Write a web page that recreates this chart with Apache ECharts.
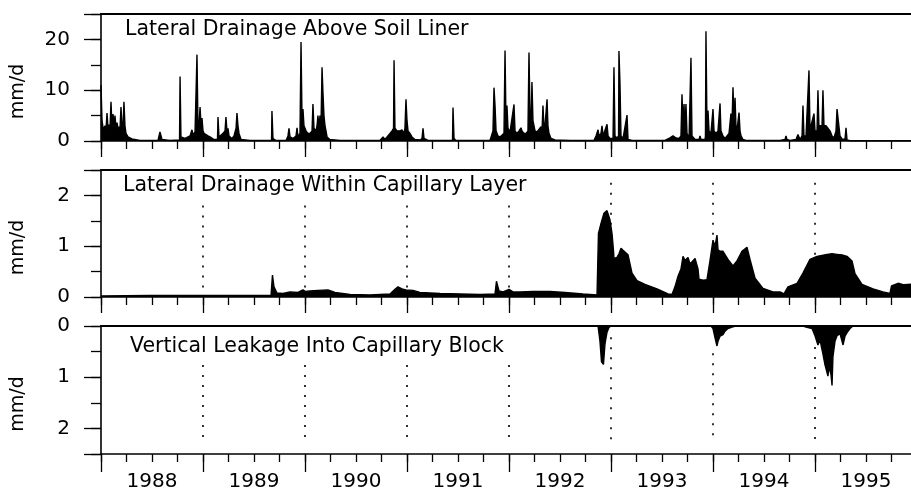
<!DOCTYPE html>
<html><head><meta charset="utf-8">
<script src="https://cdn.jsdelivr.net/npm/echarts@6/dist/echarts.min.js"></script>
<style>html,body{margin:0;padding:0;background:#fff}#c{width:911px;height:493px;overflow:hidden}</style>
</head><body><div id="c"></div>
<script>
// ---------- data ----------
const yearLabels = ['1988','1989','1990','1991','1992','1993','1994','1995'];
const panelTitles = ['Lateral Drainage Above Soil Liner','Lateral Drainage Within Capillary Layer','Vertical Leakage Into Capillary Block'];
const yUnit = 'mm/d';
const yearBoundaries = [1989,1990,1991,1992,1993,1994,1995];
// where the dotted year lines start (value on each panel's y axis)
const dottedStartLayer = [1.8,1.8,1.8,1.8,2.25,2.25,2.25];
const dottedStartBlock = [0.76,0.76,0.76,0.76,0.22,0.53,0.41];
const dottedEndBlock = 2.29;

// [decimal year, mm/d]
const aboveLinerData = [
[1988.000,11],[1988.010,4],[1988.020,2.7],[1988.029,2.3],[1988.039,3],[1988.049,2.2],[1988.059,5.5],[1988.069,2.5],[1988.078,3.2],[1988.088,2.3],
[1988.098,7.7],[1988.108,2.6],[1988.118,5.3],[1988.127,2.8],[1988.137,5],[1988.147,2.5],[1988.157,3.6],[1988.167,2.4],[1988.176,2.8],[1988.186,2.2],
[1988.196,6.7],[1988.206,3],[1988.216,2.6],[1988.225,7.7],[1988.235,3],[1988.245,1.5],[1988.265,0.8],[1988.304,0.4],[1988.382,0.1],[1988.559,0.1],
[1988.578,1.8],[1988.598,0.3],[1988.676,0.1],[1988.770,0.2],[1988.775,12.7],[1988.784,0.8],[1988.824,0.5],[1988.873,1],[1988.892,2.2],[1988.902,1.2],
[1988.922,1.8],[1988.936,2],[1988.941,17],[1988.951,2.5],[1988.961,3],[1988.971,6.7],[1988.980,3.5],[1988.990,4.5],[1989.000,2],[1989.010,1.5],
[1989.029,1.2],[1989.049,1],[1989.069,0.8],[1989.108,0.3],[1989.142,0.3],[1989.147,4.7],[1989.157,0.8],[1989.176,1],[1989.196,1.5],[1989.216,2],
[1989.225,4.7],[1989.235,2],[1989.245,2.5],[1989.255,1],[1989.284,0.5],[1989.304,1],[1989.324,2.5],[1989.333,5.5],[1989.343,3],[1989.353,1.5],
[1989.373,0.3],[1989.461,0.1],[1989.672,0.1],[1989.676,5.9],[1989.686,0.5],[1989.716,0.1],[1989.814,0.1],[1989.833,1],[1989.843,2.5],[1989.853,0.8],
[1989.882,0.5],[1989.912,1],[1989.922,2.6],[1989.931,0.8],[1989.951,1.5],[1989.961,19.5],[1989.971,4],[1989.980,6.3],[1989.990,3],[1990.010,2],
[1990.029,1.5],[1990.049,1.5],[1990.069,2],[1990.078,7.3],[1990.088,2.5],[1990.108,2],[1990.118,3],[1990.127,5],[1990.137,2.5],[1990.147,5],
[1990.157,3],[1990.167,14.5],[1990.176,9.6],[1990.186,5],[1990.196,3],[1990.206,2],[1990.216,0.8],[1990.245,0.3],[1990.343,0.1],[1990.735,0.1],
[1990.765,0.8],[1990.784,0.3],[1990.833,1.5],[1990.853,2],[1990.868,2.5],[1990.873,15.9],[1990.882,2.5],[1990.902,2],[1990.931,2],[1990.951,2.2],
[1990.971,1.5],[1990.980,2.5],[1990.990,8.2],[1991.000,4],[1991.010,2],[1991.029,1.5],[1991.049,0.8],[1991.078,0.3],[1991.127,0.2],[1991.147,0.5],
[1991.157,2.5],[1991.167,0.5],[1991.206,0.1],[1991.446,0.1],[1991.451,6.6],[1991.461,0.5],[1991.480,0.1],[1991.814,0.1],[1991.843,2],[1991.853,10.5],
[1991.863,7],[1991.873,2],[1991.892,1],[1991.912,0.8],[1991.931,1],[1991.951,1.5],[1991.961,17.8],[1991.971,3],[1991.980,7],[1991.990,2.5],
[1992.010,1.8],[1992.029,2],[1992.049,7.2],[1992.059,2],[1992.078,1.5],[1992.098,2],[1992.118,2.6],[1992.127,2],[1992.147,1.5],[1992.167,1.5],
[1992.186,2],[1992.196,17.4],[1992.206,5],[1992.216,3],[1992.225,11.6],[1992.235,4],[1992.255,2],[1992.275,1.8],[1992.294,2],[1992.314,2.8],
[1992.324,2],[1992.333,7],[1992.343,2.5],[1992.353,3],[1992.373,8.2],[1992.382,3],[1992.392,1.5],[1992.412,0.5],[1992.451,0.2],[1992.598,0.1],
[1992.833,0.1],[1992.853,1],[1992.873,2.2],[1992.882,1],[1992.902,1.5],[1992.912,3],[1992.922,1],[1992.941,1],[1992.961,3.3],[1992.971,1],
[1992.990,0.5],[1993.020,0.5],[1993.029,14.5],[1993.039,1],[1993.059,0.6],[1993.074,1],[1993.078,17.7],[1993.088,11.3],[1993.098,1],[1993.118,0.5],
[1993.137,0.3],[1993.157,5.1],[1993.167,0.3],[1993.206,0.1],[1993.529,0.1],[1993.578,0.6],[1993.608,1],[1993.637,0.6],[1993.667,0.5],[1993.686,1],
[1993.696,9.2],[1993.706,3],[1993.716,7.3],[1993.725,2],[1993.735,7.3],[1993.745,1.5],[1993.765,0.5],[1993.779,0.5],[1993.784,16.4],[1993.794,1],
[1993.824,0.3],[1993.863,0.3],[1993.873,1],[1993.882,0.3],[1993.922,0.3],[1993.926,1],[1993.931,21.6],[1993.941,3],[1993.951,6],[1993.961,2],
[1993.980,1.5],[1994.000,6.3],[1994.010,2],[1994.029,1.5],[1994.049,2],[1994.069,7.4],[1994.078,2],[1994.098,1],[1994.118,0.5],[1994.137,0.8],
[1994.157,1.5],[1994.176,5.4],[1994.186,3],[1994.196,10.6],[1994.206,4],[1994.216,8.5],[1994.225,3],[1994.235,2],[1994.255,5.6],[1994.265,2],
[1994.275,1],[1994.294,0.3],[1994.324,0.1],[1994.657,0.1],[1994.706,0.3],[1994.716,1],[1994.725,0.3],[1994.755,0.1],[1994.814,0.3],[1994.833,1.3],
[1994.853,0.3],[1994.873,1],[1994.882,7],[1994.892,1],[1994.912,1],[1994.931,0.8],[1994.941,13.9],[1994.951,2],[1994.961,3],[1994.980,3],
[1994.990,5.4],[1995.000,2],[1995.020,2],[1995.029,10],[1995.039,2.5],[1995.049,3],[1995.069,3],[1995.078,10],[1995.088,3],[1995.108,3],
[1995.127,2.8],[1995.147,2],[1995.167,1],[1995.186,0.6],[1995.206,2],[1995.216,6.3],[1995.235,6.3],[1995.245,1],[1995.265,0.4],[1995.294,0.3],
[1995.304,2.6],[1995.314,0.2],[1995.343,0.05],[1995.941,0.05]
];

const capillaryLayerData = [
[1988.000,0.02],[1988.480,0.03],[1988.971,0.03],[1989.363,0.03],[1989.667,0.03],[1989.681,0.43],[1989.696,0.2],[1989.725,0.08],[1989.784,0.07],[1989.853,0.1],
[1989.931,0.09],[1989.980,0.14],[1990.000,0.11],[1990.049,0.12],[1990.127,0.13],[1990.225,0.14],[1990.294,0.09],[1990.441,0.05],[1990.637,0.04],[1990.833,0.06],
[1990.882,0.15],[1990.912,0.2],[1990.951,0.16],[1990.990,0.14],[1991.059,0.13],[1991.127,0.09],[1991.324,0.07],[1991.520,0.06],[1991.716,0.05],[1991.863,0.06],
[1991.877,0.31],[1991.902,0.12],[1991.941,0.1],[1992.000,0.15],[1992.039,0.1],[1992.108,0.1],[1992.235,0.11],[1992.402,0.11],[1992.549,0.09],[1992.725,0.06],
[1992.863,0.04],[1992.877,1.25],[1992.902,1.45],[1992.931,1.65],[1992.961,1.7],[1992.990,1.52],[1993.010,1.25],[1993.025,0.9],[1993.029,0.76],[1993.059,0.78],
[1993.078,0.85],[1993.098,0.96],[1993.118,0.92],[1993.137,0.9],[1993.167,0.83],[1993.206,0.47],[1993.255,0.32],[1993.333,0.25],[1993.451,0.16],[1993.559,0.06],
[1993.598,0.05],[1993.627,0.2],[1993.657,0.41],[1993.686,0.55],[1993.706,0.8],[1993.725,0.72],[1993.755,0.78],[1993.775,0.65],[1993.794,0.63],[1993.824,0.76],
[1993.853,0.55],[1993.863,0.35],[1993.902,0.33],[1993.941,0.34],[1993.971,0.72],[1994.000,1.12],[1994.020,1.0],[1994.039,1.22],[1994.049,0.93],[1994.069,0.9],
[1994.098,0.9],[1994.147,0.74],[1994.196,0.61],[1994.235,0.71],[1994.284,0.9],[1994.333,0.98],[1994.363,0.74],[1994.412,0.37],[1994.490,0.17],[1994.588,0.1],
[1994.657,0.1],[1994.696,0.06],[1994.735,0.2],[1994.824,0.27],[1994.882,0.47],[1994.951,0.74],[1995.020,0.8],[1995.069,0.82],[1995.118,0.84],[1995.167,0.85],
[1995.216,0.84],[1995.265,0.83],[1995.314,0.8],[1995.363,0.71],[1995.392,0.46],[1995.461,0.25],[1995.569,0.16],[1995.667,0.1],[1995.735,0.07],[1995.750,0.22],
[1995.814,0.27],[1995.873,0.24],[1995.941,0.25]
];

const leakageData = [
[1988.000,0],[1992.873,0],[1992.882,0.02],[1992.892,0.3],[1992.907,0.7],[1992.926,0.75],[1992.941,0.35],[1992.961,0.12],[1992.980,0.03],[1993.000,0],
[1993.980,0],[1993.990,0.03],[1994.000,0.05],[1994.020,0.23],[1994.039,0.39],[1994.049,0.3],[1994.069,0.2],[1994.098,0.17],[1994.118,0.1],[1994.147,0.05],
[1994.186,0.02],[1994.225,0],[1994.882,0],[1994.912,0.02],[1994.951,0.04],[1994.971,0.05],[1995.000,0.19],[1995.029,0.37],[1995.049,0.27],[1995.078,0.55],
[1995.098,0.76],[1995.127,0.98],[1995.137,0.8],[1995.157,0.95],[1995.167,1.16],[1995.176,0.6],[1995.196,0.3],[1995.216,0.19],[1995.245,0.15],[1995.275,0.37],
[1995.294,0.2],[1995.314,0.13],[1995.343,0.05],[1995.373,0],[1995.941,0]
];

// ---------- chart ----------
const FONT = 'DejaVu Sans';
const BLACK = '#000';
const X_MIN = 1988, X_MAX = 1996;

const grids = [
  {left:101, width:816, top:14, height:127, outerBoundsMode:'none'},
  {left:101, width:816, top:170, height:127, outerBoundsMode:'none'},
  {left:101, width:816, top:326, height:128, outerBoundsMode:'none'}
];
const yCfg = [
  {max:25, minor:5, major:10, inverse:false},
  {max:2.5, minor:0.5, major:1, inverse:false},
  {max:2.5, minor:0.5, major:1, inverse:true}
];

const xAxis = [], yAxis = [], series = [];
const lineW = 1.6;

grids.forEach((g, i) => {
  const xMinorIdx = xAxis.length;
  // quarter ticks + axis line
  xAxis.push({type:'value', gridIndex:i, min:X_MIN, max:X_MAX, interval:0.25, position:'bottom',
    axisLine:{show:true, onZero:false, lineStyle:{color:BLACK, width:lineW}},
    axisTick:{show:true, length:8, lineStyle:{color:BLACK, width:1.3}},
    axisLabel:{show:false}, splitLine:{show:false}});
  // year ticks
  xAxis.push({type:'value', gridIndex:i, min:X_MIN, max:X_MAX, interval:1, position:'bottom',
    axisLine:{show:false, onZero:false}, axisTick:{show:true, length:i===2?18:16, lineStyle:{color:BLACK, width:1.3}},
    axisLabel:{show:false}, splitLine:{show:false}});
  // top frame line
  xAxis.push({type:'value', gridIndex:i, min:X_MIN, max:X_MAX, position:'top',
    axisLine:{show:true, onZero:false, lineStyle:{color:BLACK, width:2}}, axisTick:{show:false},
    axisLabel:{show:false}, splitLine:{show:false}});
  if (i === 2) {
    xAxis.push({type:'value', gridIndex:i, min:X_MIN, max:X_MAX, interval:0.5, position:'bottom',
      axisLine:{show:false, onZero:false}, axisTick:{show:false}, splitLine:{show:false},
      axisLabel:{show:true, margin:18, fontFamily:FONT, fontSize:20, color:BLACK,
        formatter: v => {
          const f = v - Math.floor(v);
          if (Math.abs(f - 0.5) > 1e-6) return '';
          return yearLabels[Math.floor(v) - X_MIN] || '';
        }}});
  }
  const c = yCfg[i];
  const yIdx = yAxis.length;
  yAxis.push({type:'value', gridIndex:i, min:0, max:c.max, interval:c.minor, inverse:c.inverse, position:'left',
    axisLine:{show:true, onZero:false, lineStyle:{color:BLACK, width:lineW}},
    axisTick:{show:true, length:10, lineStyle:{color:BLACK, width:1.3}},
    axisLabel:{show:false}, splitLine:{show:false}});
  yAxis.push({type:'value', gridIndex:i, min:0, max:c.max, interval:c.major, inverse:c.inverse, position:'left',
    axisLine:{show:false, onZero:false},
    axisTick:{show:true, length:17, lineStyle:{color:BLACK, width:1.3}},
    axisLabel:{show:true, margin:31, fontFamily:FONT, fontSize:20, color:BLACK,
      formatter: v => (Math.abs(v - Math.round(v)) < 1e-6 && v <= c.max - 0.5) ? String(Math.round(v)) : ''},
    splitLine:{show:false},
    name:yUnit, nameLocation:'middle', nameGap:73,
    nameTextStyle:{fontFamily:FONT, fontSize:19, color:BLACK, padding:[0,28,0,0]}});

  const dataSets = [aboveLinerData, capillaryLayerData, leakageData];
  const s = {type:'line', xAxisIndex:xMinorIdx, yAxisIndex:yIdx, data:dataSets[i],
    showSymbol:false, symbol:'none', animation:false, silent:true, z:3,
    lineStyle:{color:BLACK, width:1.4}, areaStyle:{color:BLACK, opacity:1}};
  if (i > 0) {
    const dl = yearBoundaries.map((yr, k) => {
      const y0 = i === 1 ? dottedStartLayer[k] : dottedStartBlock[k];
      const y1 = i === 1 ? 0 : dottedEndBlock;
      return [{coord:[yr, y0]}, {coord:[yr, y1]}];
    });
    s.markLine = {silent:true, symbol:['none','none'], animation:false, label:{show:false},
      lineStyle:{color:BLACK, width:1.6, type:[2,8]}, data:dl};
  }
  series.push(s);
});

const chart = echarts.init(document.getElementById('c'), null, {renderer:'canvas'});
chart.setOption({
  backgroundColor:'#fff',
  animation:false,
  title: [
    {text:panelTitles[0], left:125, top:19},
    {text:panelTitles[1], left:123, top:175},
    {text:panelTitles[2], left:130, top:336}
  ].map(t => Object.assign(t, {padding:0, textStyle:{fontFamily:FONT, fontSize:20.5, fontWeight:'normal', color:BLACK}})),
  grid: grids,
  xAxis, yAxis, series
});
</script>
</body></html>
